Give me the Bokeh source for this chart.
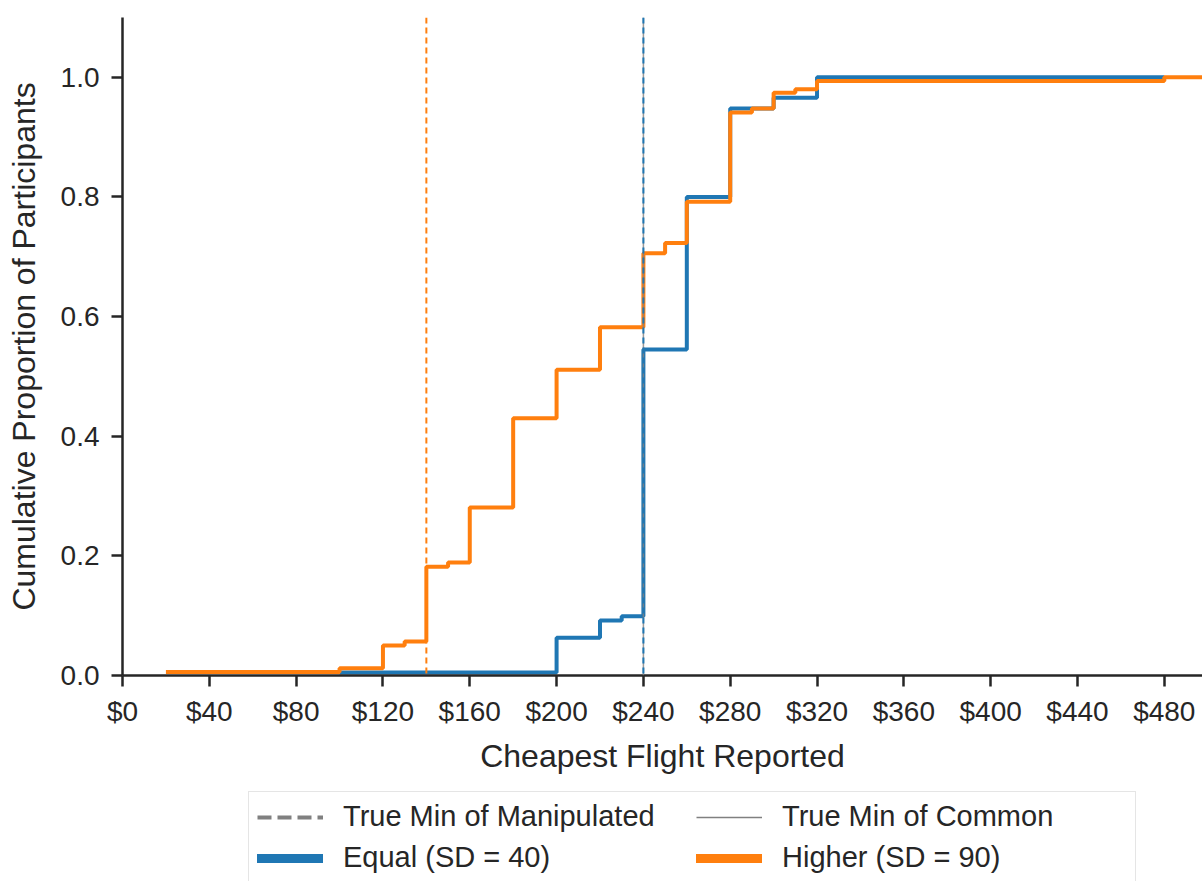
from bokeh.plotting import figure
from bokeh.layouts import column
from bokeh.models import Range1d, FixedTicker, Span, Legend, LegendItem, ColumnDataSource
from bokeh.embed import file_html
from bokeh.resources import INLINE

# ---- data ----
equal_x = [100, 200, 220, 230, 240, 260, 280, 300, 320, 480]
equal_y = [0.005, 0.063, 0.092, 0.099, 0.545, 0.800, 0.948, 0.966, 1.0, 1.0]

higher_x = [20, 100, 120, 130, 140, 150, 160, 180, 200, 220, 240, 250, 260, 280, 290, 300, 310, 320, 480, 510]
higher_y = [0.006, 0.012, 0.050, 0.057, 0.182, 0.189, 0.281, 0.430, 0.511, 0.582, 0.706, 0.723, 0.792,
            0.941, 0.948, 0.974, 0.980, 0.994, 1.0, 1.0]

manipulated_min = {"Equal": 240, "Higher": 140}
common_min = 240

x_ticks = [0, 40, 80, 120, 160, 200, 240, 280, 320, 360, 400, 440, 480]
x_tick_labels = ["$0", "$40", "$80", "$120", "$160", "$200", "$240", "$280", "$320", "$360", "$400", "$440", "$480"]
y_ticks = [0.0, 0.2, 0.4, 0.6, 0.8, 1.0]
y_tick_labels = ["0.0", "0.2", "0.4", "0.6", "0.8", "1.0"]

legend_labels = ["True Min of Manipulated", "Equal (SD = 40)", "True Min of Common", "Higher (SD = 90)"]

BLUE = "#1f77b4"
ORANGE = "#ff7f0e"
GRAY = "#808080"
DARK = "#262626"
FONT = "Liberation Sans"

W = 1202
H1, H2 = 785, 96

p = figure(width=W, height=H1, output_backend="svg", toolbar_location=None,
           x_range=Range1d(0, 497.6), y_range=Range1d(0, 1.1),
           min_border_left=122, min_border_right=0, min_border_top=17, min_border_bottom=110)
p.outline_line_color = None
p.grid.grid_line_color = None
p.background_fill_color = "white"
p.border_fill_color = "white"

# vertical reference lines
p.add_layout(Span(location=common_min, dimension="height", line_color=GRAY, line_width=1.5, line_alpha=0.8))
p.add_layout(Span(location=manipulated_min["Equal"], dimension="height", line_color=BLUE,
                  line_width=2, line_dash="6 4"))
p.add_layout(Span(location=manipulated_min["Higher"], dimension="height", line_color=ORANGE,
                  line_width=2, line_dash="6 4"))

src_e = ColumnDataSource(dict(x=equal_x, y=equal_y))
src_h = ColumnDataSource(dict(x=higher_x, y=higher_y))
p.step("x", "y", source=src_e, mode="after", line_color=BLUE, line_width=4)
p.step("x", "y", source=src_h, mode="after", line_color=ORANGE, line_width=4)

# axes
for ax in (p.xaxis[0], p.yaxis[0]):
    ax.axis_line_color = DARK
    ax.axis_line_width = 2.5
    ax.major_tick_line_color = DARK
    ax.major_tick_line_width = 2.5
    ax.major_tick_out = 11
    ax.major_tick_in = 0
    ax.minor_tick_line_color = None
    ax.major_label_text_font = FONT
    ax.major_label_text_font_size = "28px"
    ax.major_label_text_color = DARK
    ax.axis_label_text_font = FONT
    ax.axis_label_text_font_size = "32px"
    ax.axis_label_text_font_style = "normal"
    ax.axis_label_text_color = DARK

p.xaxis.ticker = FixedTicker(ticks=x_ticks)
p.xaxis.major_label_overrides = dict(zip(x_ticks, x_tick_labels))
p.xaxis.axis_label = "Cheapest Flight Reported"
p.xaxis.major_label_standoff = 9
p.xaxis.axis_label_standoff = 8

p.yaxis.ticker = FixedTicker(ticks=y_ticks)
p.yaxis.major_label_overrides = dict(zip(y_ticks, y_tick_labels))
p.yaxis.axis_label = "Cumulative Proportion of Participants"
p.yaxis.major_label_standoff = 12
p.yaxis.axis_label_standoff = 16

# ---- legend strip below the chart ----
q = figure(width=W, height=H2, output_backend="svg", toolbar_location=None,
           x_range=Range1d(0, 1), y_range=Range1d(0, 1), x_axis_type=None, y_axis_type=None,
           min_border_left=0, min_border_right=0, min_border_top=0, min_border_bottom=0)
q.outline_line_color = None
q.grid.grid_line_color = None
q.background_fill_color = "white"
q.border_fill_color = "white"

nan_src = ColumnDataSource(dict(x=[float("nan")], y=[float("nan")]))
l_man = q.line("x", "y", source=nan_src, line_color=GRAY, line_width=4, line_dash="14 6")
l_eq = q.line("x", "y", source=nan_src, line_color=BLUE, line_width=9, line_cap="round")
l_com = q.line("x", "y", source=nan_src, line_color=GRAY, line_width=1.5)
l_hi = q.line("x", "y", source=nan_src, line_color=ORANGE, line_width=9, line_cap="round")

legend = Legend(items=[LegendItem(label=lab, renderers=[r]) for lab, r in
                       zip(legend_labels, [l_man, l_eq, l_com, l_hi])],
                ncols=2, location=(126, -2))
legend.label_text_font = FONT
legend.label_text_font_size = "29px"
legend.label_text_color = DARK
legend.glyph_width = 66
legend.glyph_height = 30
legend.label_height = 30
legend.label_standoff = 20
legend.spacing = 8
legend.padding = 8
legend.margin = 0
legend.label_width = 345
legend.border_line_color = "#cccccc"
legend.border_line_width = 1.5
legend.background_fill_color = "white"
legend.background_fill_alpha = 1.0
q.add_layout(legend, "center")

layout = column(p, q, spacing=0)
open("out.html", "w").write(file_html(layout, INLINE))
